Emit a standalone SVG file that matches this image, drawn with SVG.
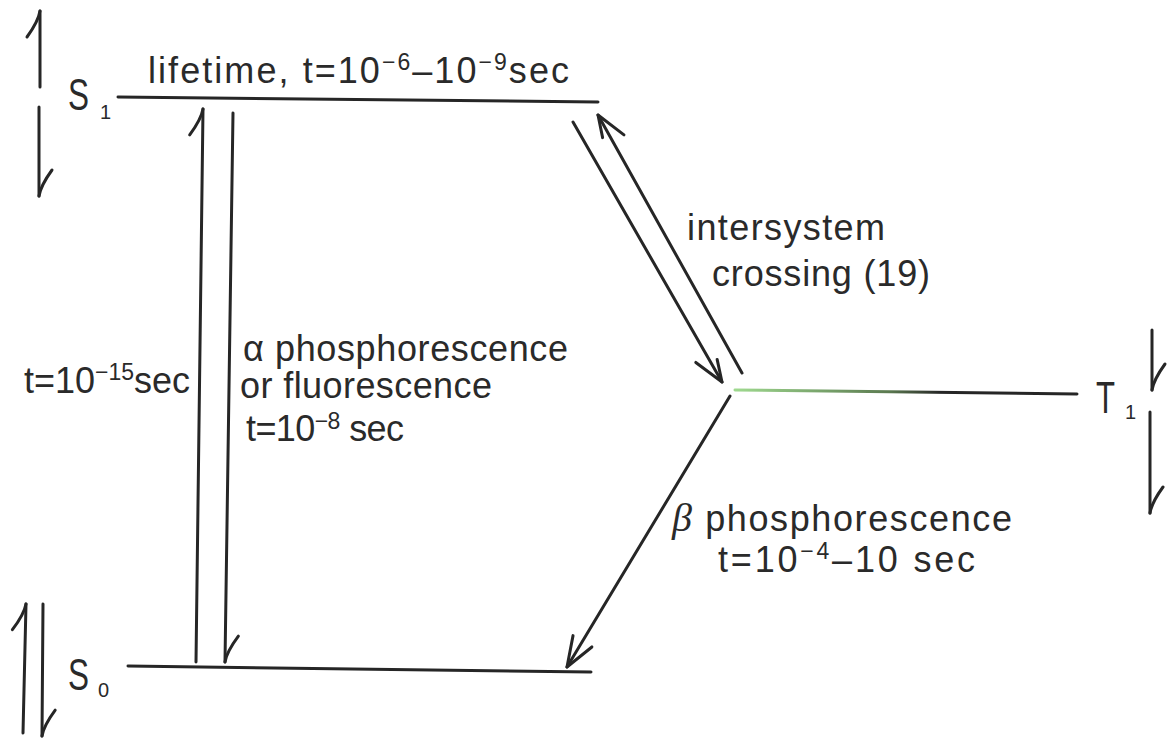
<svg xmlns="http://www.w3.org/2000/svg" width="1176" height="750" viewBox="0 0 1176 750">
<style>
  .ln{stroke:#262626;stroke-width:3;fill:none;stroke-linecap:round}
  .tx{font-family:"Liberation Sans",Arial,sans-serif;font-size:36px;fill:#2a2a2a}
  .sup{font-size:23px}
  .big{font-size:44px}
  .sub{font-size:20px}
</style>
<defs>
  <marker id="harpoon" markerUnits="userSpaceOnUse" orient="auto" markerWidth="40" markerHeight="40" viewBox="-35 -20 40 40" refX="0" refY="0" overflow="visible">
    <path d="M0,0 C-6,-1 -15,-5 -26,-13" fill="none" stroke="#262626" stroke-width="3" stroke-linecap="round"/>
  </marker>
  <marker id="arrow" markerUnits="userSpaceOnUse" orient="auto" markerWidth="40" markerHeight="40" viewBox="-35 -20 40 40" refX="0" refY="0" overflow="visible">
    <path d="M-30,-11 L0,0 L-30,11" fill="none" stroke="#262626" stroke-width="3" stroke-linecap="round" stroke-linejoin="round"/>
  </marker>
  <marker id="arrowIsc" markerUnits="userSpaceOnUse" orient="auto" markerWidth="40" markerHeight="40" viewBox="-35 -20 40 40" refX="0" refY="0" overflow="visible">
    <path d="M-30,13 L0,0 L-22,-7" fill="none" stroke="#262626" stroke-width="3" stroke-linecap="round" stroke-linejoin="round"/>
  </marker>
  <linearGradient id="greenT1" x1="735" y1="0" x2="1077" y2="0" gradientUnits="userSpaceOnUse">
    <stop offset="0" stop-color="#9fd98f"/>
    <stop offset="0.45" stop-color="#5b7a50"/>
    <stop offset="0.6" stop-color="#262626"/>
    <stop offset="1" stop-color="#262626"/>
  </linearGradient>
</defs>
<rect width="1176" height="750" fill="#ffffff"/>

<g id="level-S1">
  <line class="ln" x1="118" y1="97" x2="598" y2="102"/>
  <text class="tx big" x="68" y="110" textLength="21" lengthAdjust="spacingAndGlyphs">S</text>
  <text class="tx sub" x="100" y="119">1</text>
</g>

<g id="level-S1-label">
  <text class="tx" x="148" y="83" textLength="421" lengthAdjust="spacing">lifetime, t=10<tspan class="sup" dy="-13">−6</tspan><tspan dy="13">–10</tspan><tspan class="sup" dy="-13">−9</tspan><tspan dy="13">sec</tspan></text>
</g>

<g id="level-S0">
  <line class="ln" x1="128" y1="666" x2="591" y2="672"/>
  <text class="tx big" x="68" y="690" textLength="21" lengthAdjust="spacingAndGlyphs">S</text>
  <text class="tx sub" x="98" y="697">0</text>
</g>

<g id="level-T1">
  <line x1="735" y1="390" x2="1077" y2="394" stroke="url(#greenT1)" stroke-width="3" stroke-linecap="round"/>
  <text class="tx big" x="1096" y="413" textLength="19" lengthAdjust="spacingAndGlyphs">T</text>
  <text class="tx sub" x="1125" y="419">1</text>
</g>

<g id="spin-S1">
  <line class="ln" x1="40" y1="87" x2="40" y2="11" marker-end="url(#harpoon)"/>
  <line class="ln" x1="39" y1="107" x2="39" y2="196" marker-end="url(#harpoon)"/>
</g>

<g id="spin-S0">
  <line class="ln" x1="23" y1="733" x2="26" y2="604" marker-end="url(#harpoon)"/>
  <line class="ln" x1="43" y1="604" x2="42" y2="736" marker-end="url(#harpoon)"/>
</g>

<g id="spin-T1">
  <line class="ln" x1="1152" y1="330" x2="1152" y2="390" marker-end="url(#harpoon)"/>
  <line class="ln" x1="1150" y1="412" x2="1150" y2="513" marker-end="url(#harpoon)"/>
</g>

<g id="connectors">
  <line class="ln" x1="196" y1="662" x2="203" y2="109" marker-end="url(#harpoon)"/>
  <line class="ln" x1="233" y1="113" x2="225" y2="662" marker-end="url(#harpoon)"/>
  <line class="ln" x1="573" y1="122" x2="722" y2="382" marker-end="url(#arrowIsc)"/>
  <line class="ln" x1="742" y1="373" x2="598" y2="115" marker-end="url(#arrowIsc)"/>
  <line class="ln" x1="730" y1="396" x2="567" y2="667" marker-end="url(#arrow)"/>
</g>

<g id="labels">
  <text class="tx" x="24" y="393" textLength="166" lengthAdjust="spacing">t=10<tspan class="sup" dy="-13">−15</tspan><tspan dy="13">sec</tspan></text>
  <text class="tx" x="243" y="361" textLength="325" lengthAdjust="spacing">α phosphorescence</text>
  <text class="tx" x="240" y="398" textLength="252" lengthAdjust="spacing">or fluorescence</text>
  <text class="tx" x="246" y="441" textLength="158" lengthAdjust="spacing">t=10<tspan class="sup" dy="-12">−8</tspan><tspan dy="12"> sec</tspan></text>
  <text class="tx" x="687" y="240" textLength="198" lengthAdjust="spacing">intersystem</text>
  <text class="tx" x="712" y="286" textLength="218" lengthAdjust="spacing">crossing (19)</text>
  <text class="tx" x="672" y="531" textLength="340" lengthAdjust="spacing"><tspan font-family="'Liberation Serif',serif" font-style="italic" font-size="40">β</tspan> phosphorescence</text>
  <text class="tx" x="718" y="572" textLength="257" lengthAdjust="spacing">t=10<tspan class="sup" dy="-13">−4</tspan><tspan dy="13">–10 sec</tspan></text>
</g>
</svg>
